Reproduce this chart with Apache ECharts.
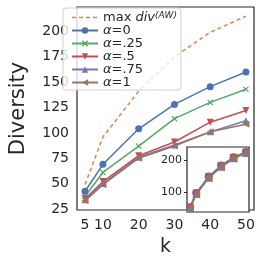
<!DOCTYPE html>
<html><head><meta charset="utf-8">
<script src="https://cdn.jsdelivr.net/npm/echarts@6/dist/echarts.min.js"></script>
<style>html,body{margin:0;padding:0;background:#fff}#c{width:262px;height:262px}</style>
</head><body><div id="c"></div>
<script>
const ks = [5, 10, 20, 30, 40, 50];
const xTicks = [5, 10, 20, 30, 40, 50];
const yTicks = [25, 50, 75, 100, 125, 150, 175, 200];
const insetYTicks = [100, 200];
const maxDiv = [49, 96, 141, 175, 199, 215];
const a0 = [42.5, 69, 104, 128, 145.5, 160];
const a25 = [37.5, 61, 87, 114, 130, 143];
const a5 = [35, 52, 77.5, 91, 110.5, 122];
const a75 = [34, 50, 76, 88, 101, 112];
const a1 = [33, 49, 75, 87, 101, 108.5];
const inMax = [53, 97, 147, 181, 209, 225];
const in0 = [52, 96, 148, 182, 208, 224];
const in25 = [51, 95, 146, 180, 207, 223];
const in5 = [50, 94, 145, 179, 206, 222];
const in75 = [49, 93, 144, 178, 205, 221];
const in1 = [48, 92, 143, 177, 204, 221];

const names = ['max div(AW)', 'α=0', 'α=.25', 'α=.5', 'α=.75', 'α=1'];
const colors = ['#DD8452', '#4C72B0', '#55A868', '#C44E52', '#8172B3', '#937860'];
const txt = '#262626';
const font = 'DejaVu Sans';
const xShape = 'path://M0,1.4L1.4,0L5,3.6L8.6,0L10,1.4L6.4,5L10,8.6L8.6,10L5,6.4L1.4,10L0,8.6L3.6,5Z';
const symbols = ['none', 'circle', xShape, 'triangle', 'triangle', 'triangle'];
const rots = [0, 0, 0, 180, 0, 90];
const sizes = [0, 7, 6, 7, 7, 7];
const mainData = [maxDiv, a0, a25, a5, a75, a1];
const insetData = [inMax, in0, in25, in5, in75, in1];
const pair = d => d.map((v, i) => [ks[i], v]);

const series = [];
mainData.forEach((d, i) => {
  series.push({
    name: names[i], type: 'line', xAxisIndex: 0, yAxisIndex: 0,
    data: pair(d), symbol: symbols[i], symbolSize: sizes[i], symbolRotate: rots[i],
    lineStyle: { color: colors[i], width: 1.5, type: i === 0 ? [4, 3] : 'solid' },
    itemStyle: { color: colors[i] }, z: 2, animation: false
  });
});
insetData.forEach((d, i) => {
  series.push({
    name: 'in' + i, type: 'line', xAxisIndex: 1, yAxisIndex: 1,
    data: pair(d), symbol: symbols[i], symbolSize: sizes[i] + 1, symbolRotate: rots[i],
    lineStyle: { color: colors[i], width: 1.5, type: i === 0 ? [4, 3] : 'solid' },
    itemStyle: { color: colors[i] }, z: 6, animation: false
  });
});

const legendData = names.map((n, i) => i === 0
  ? { name: n, itemStyle: { opacity: 0 }, lineStyle: { color: colors[0], width: 1.5, type: [4, 3], opacity: 1 } }
  : { name: n });

const chart = echarts.init(document.getElementById('c'), null, { renderer: 'canvas' });
chart.setOption({
  animation: false,
  backgroundColor: '#fff',
  grid: [
    { left: 62, right: 8, top: 7, bottom: 49, show: true, borderColor: txt, borderWidth: 1.2, backgroundColor: '#fff', z: 0 },
    { left: 187, right: 13, top: 147, bottom: 50, show: true, borderColor: txt, borderWidth: 1.2, backgroundColor: '#fff', z: 4 }
  ],
  xAxis: [
    { type: 'value', gridIndex: 0, min: 2.75, max: 52.25,
      name: 'k', nameLocation: 'middle', nameGap: 28,
      nameTextStyle: { fontFamily: font, fontSize: 19, color: txt },
      axisLine: { show: false }, axisTick: { show: false }, splitLine: { show: false },
      axisLabel: { customValues: xTicks, fontFamily: font, fontSize: 14, color: txt, margin: 8 } },
    { type: 'value', gridIndex: 1, min: 2.6, max: 52.4,
      axisLine: { show: false }, axisTick: { show: false }, splitLine: { show: false }, axisLabel: { show: false } }
  ],
  yAxis: [
    { type: 'value', gridIndex: 0, min: 24, max: 224,
      name: 'Diversity', nameLocation: 'middle', nameGap: 48,
      nameTextStyle: { fontFamily: font, fontSize: 21, color: txt },
      axisLine: { show: false }, axisTick: { show: false }, splitLine: { show: false },
      axisLabel: { customValues: yTicks, fontFamily: font, fontSize: 14, color: txt, margin: 8 } },
    { type: 'value', gridIndex: 1, min: 37, max: 240,
      axisLine: { show: false }, splitLine: { show: false },
      axisTick: { show: true, customValues: insetYTicks, length: 3, lineStyle: { color: txt } },
      axisLabel: { customValues: insetYTicks, fontFamily: font, fontSize: 11, color: txt, margin: 5 } }
  ],
  legend: {
    data: legendData, orient: 'vertical', left: 63, top: 8,
    itemWidth: 26, itemHeight: 8, itemGap: 0,
    backgroundColor: 'rgba(255,255,255,0.8)', borderColor: '#d0d0d0', borderWidth: 1, borderRadius: 3,
    padding: [3, 4, 1, 8],
    textStyle: { fontFamily: font, fontSize: 13, color: txt, lineHeight: 13,
      rich: {
        i: { fontFamily: font, fontSize: 13, fontStyle: 'italic', color: txt, lineHeight: 13 },
        n: { fontFamily: font, fontSize: 13, color: txt, lineHeight: 13 },
        s: { fontFamily: font, fontSize: 9, fontStyle: 'italic', color: txt, lineHeight: 9, padding: [0, 0, 4, 0] }
      } },
    formatter: function (name) {
      if (name === names[0]) return '{n|max }{i|div}{s|(AW)}';
      return '{i|α}{n|' + name.slice(1) + '}';
    }
  },
  series: series
});
</script></body></html>
